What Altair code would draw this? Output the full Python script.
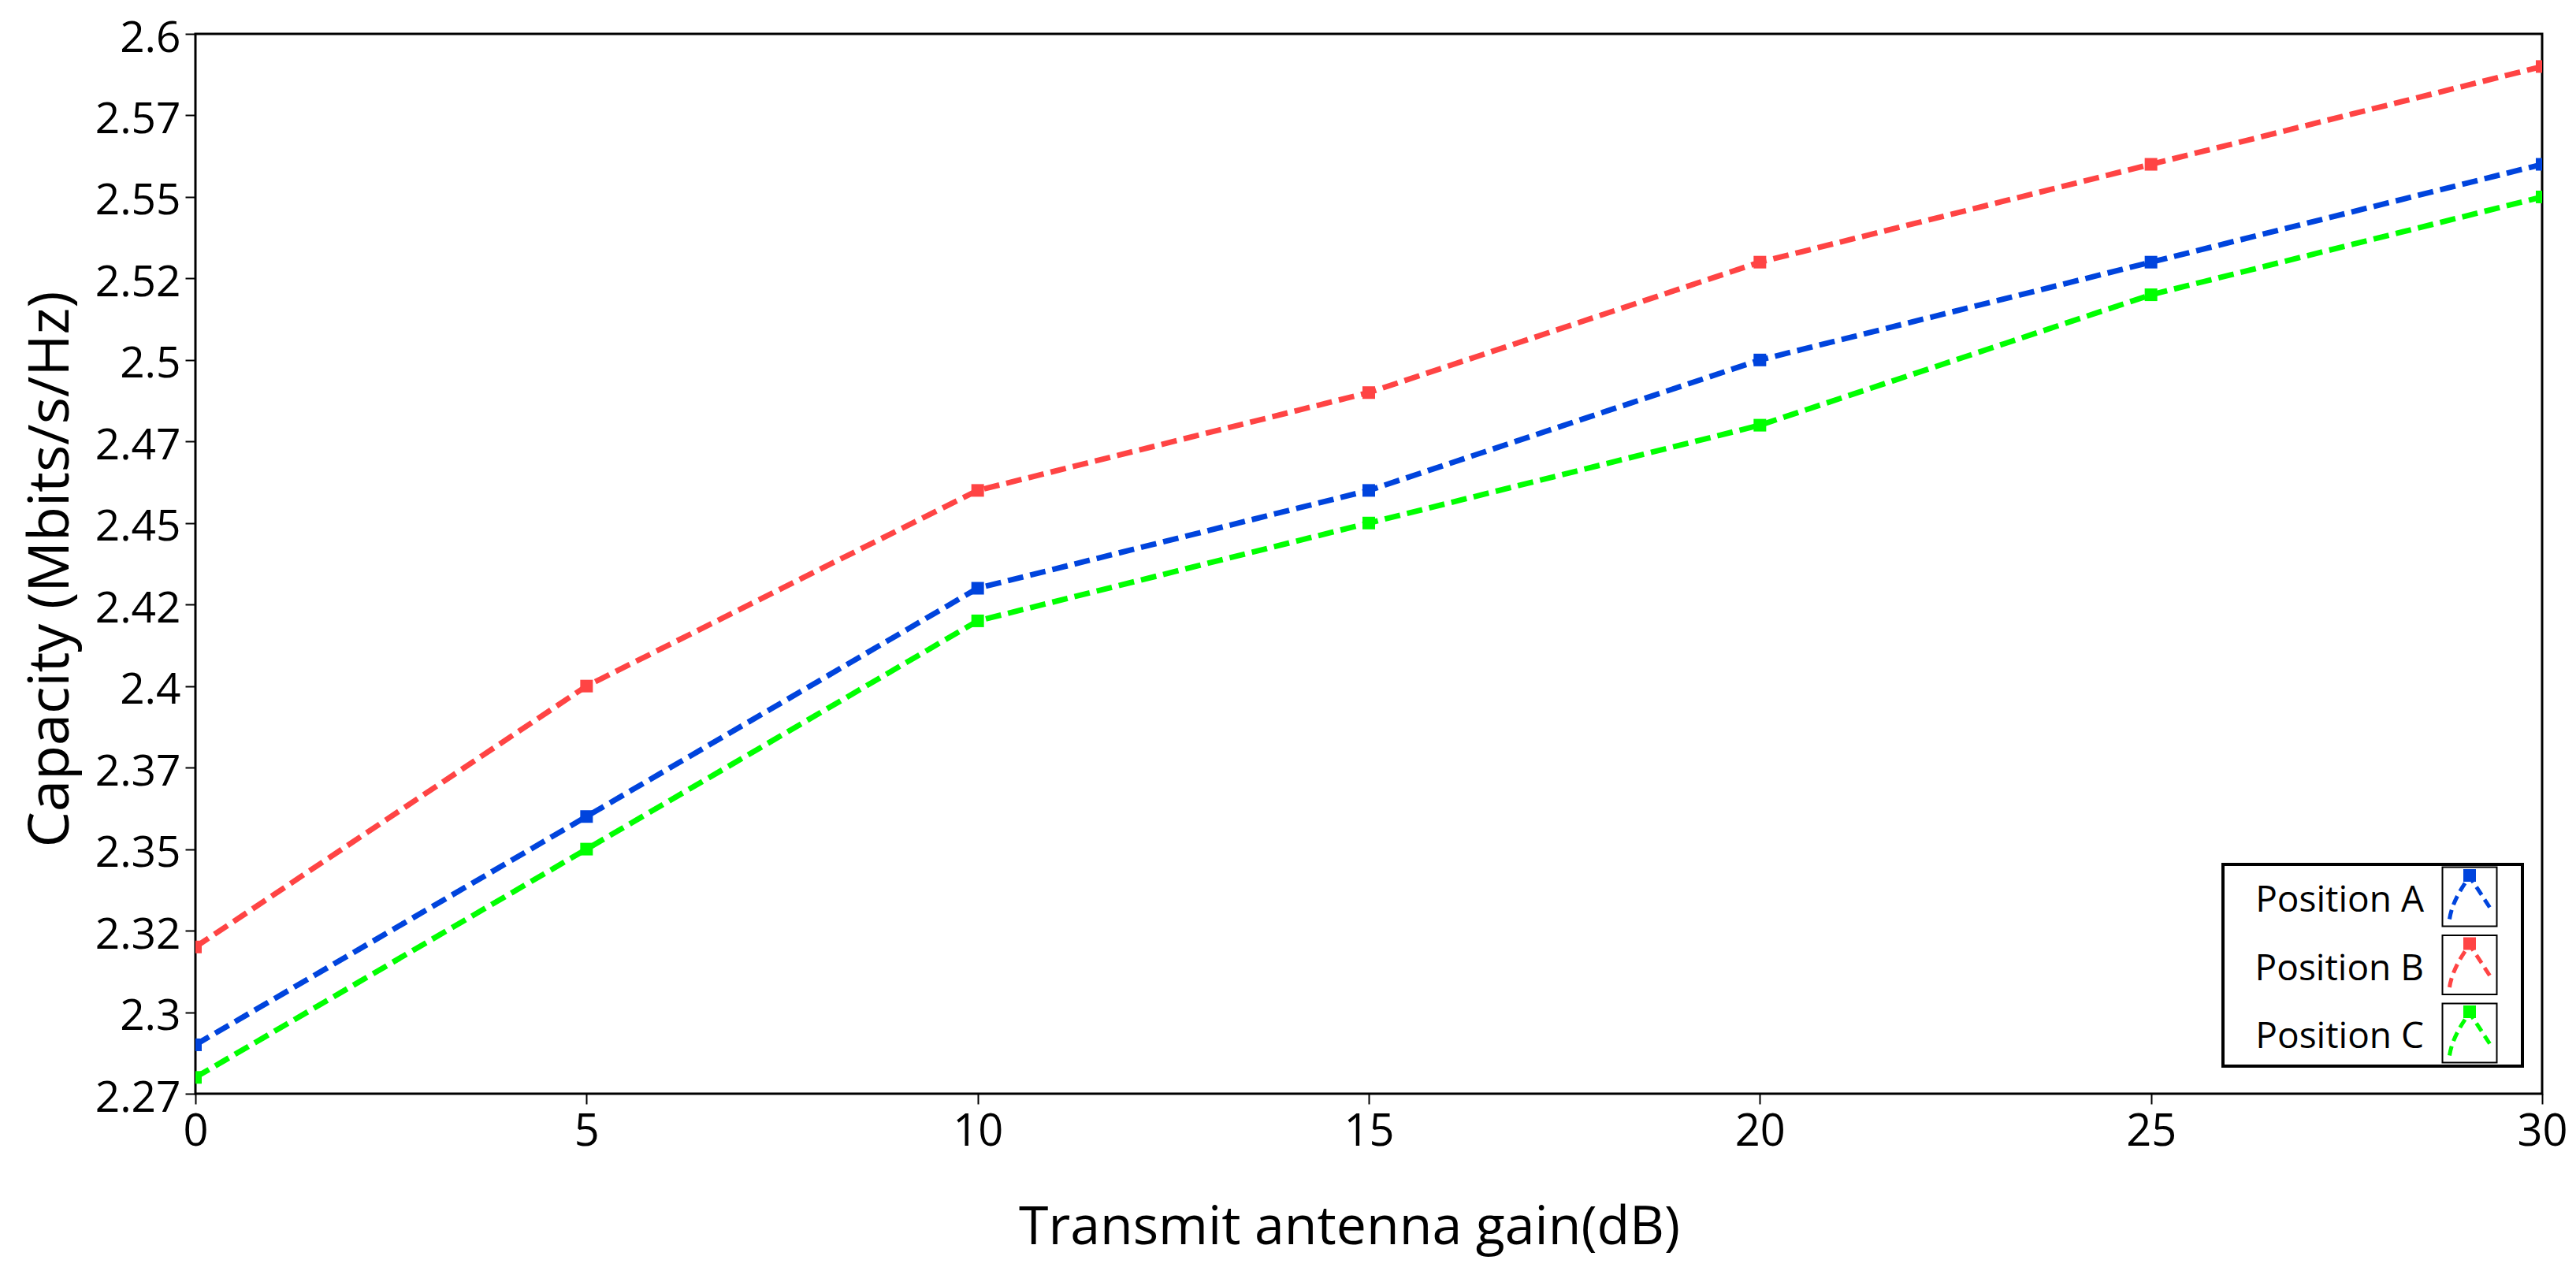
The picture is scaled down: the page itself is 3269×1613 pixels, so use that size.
import altair as alt
import pandas as pd

# ---- data ----
gain_db = [0, 5, 10, 15, 20, 25, 30]
series_names = ["Position A", "Position B", "Position C"]
position_a = [2.290, 2.360, 2.430, 2.460, 2.500, 2.530, 2.560]
position_b = [2.320, 2.400, 2.460, 2.490, 2.530, 2.560, 2.590]
position_c = [2.280, 2.350, 2.420, 2.450, 2.480, 2.520, 2.550]
series_colors = ["#0044dd", "#ff4444", "#00ff00"]
x_ticks = [0, 5, 10, 15, 20, 25, 30]
y_ticks = [2.275, 2.3, 2.325, 2.35, 2.375, 2.4, 2.425, 2.45, 2.475, 2.5,
           2.525, 2.55, 2.575, 2.6]

rows = []
for name, vals in zip(series_names, [position_a, position_b, position_c]):
    for g, v in zip(gain_db, vals):
        rows.append({"gain": g, "capacity": v, "series": name})
df = pd.DataFrame(rows)
legend_df = pd.DataFrame({"series": series_names})
box_df = pd.DataFrame({"k": [0]})

FONT = "Open Sans"
W, H = 2978, 1345

color = alt.Color("series:N", scale=alt.Scale(domain=series_names, range=series_colors), legend=None)

x_enc = alt.X(
    "gain:Q",
    scale=alt.Scale(domain=[0, 30], nice=False, zero=False),
    axis=alt.Axis(
        values=x_ticks, format="d", title="Transmit antenna gain(dB)", grid=False, domain=False,
        tickColor="black", tickWidth=2, tickSize=13,
        labelFont=FONT, labelFontSize=56, labelColor="black",
        labelBaseline="alphabetic", labelPadding=52, labelFlush=False,
        titleFont=FONT, titleFontSize=68, titleFontWeight="normal", titleColor="black",
        titleX=1464, titleY=190, titleBaseline="alphabetic", titleAlign="center",
    ),
)
y_enc = alt.Y(
    "capacity:Q",
    scale=alt.Scale(domain=[2.275, 2.6], nice=False, zero=False),
    axis=alt.Axis(
        values=y_ticks, title="Capacity (Mbits/s/Hz)", grid=False, domain=False,
        tickColor="black", tickWidth=2, tickSize=13,
        labelExpr="toString(floor(datum.value*100 + 0.001)/100)",
        labelFont=FONT, labelFontSize=55, labelColor="black",
        labelBaseline="alphabetic", labelOffset=22, labelPadding=6, labelFlush=False,
        titleFont=FONT, titleFontSize=72, titleFontWeight="normal", titleColor="black",
        titleX=-162, titleY=679, titleBaseline="alphabetic", titleAlign="center",
        titleAngle=270,
    ),
)

lines = alt.Chart(df).mark_line(strokeDash=[20, 9], strokeWidth=7, clip=True).encode(
    x=x_enc, y=y_enc, color=color, detail="series:N"
)
points = alt.Chart(df).mark_point(shape="square", filled=True, size=256, opacity=1, clip=True).encode(
    x="gain:Q", y="capacity:Q", color=color
)
data_layer = alt.layer(lines, points)

# ---- custom legend (labels left, symbols right, as in the reference) ----
leg_y = alt.Y("series:N", scale=alt.Scale(domain=series_names, range=[1095, 1268], padding=0), axis=None)

legend_box = alt.Chart(box_df).mark_rect(fill="white", stroke="black", strokeWidth=4).encode(
    x=alt.value(2573), x2=alt.value(2953), y=alt.value(1054), y2=alt.value(1310)
)
leg_text = alt.Chart(legend_df).mark_text(
    align="right", baseline="alphabetic", dy=19, font=FONT, fontSize=46, color="black"
).encode(x=alt.value(2828), y=leg_y, text="series:N")
leg_frame = alt.Chart(legend_df).mark_point(
    shape="M-0.92,-1 L0.92,-1 L0.92,1 L-0.92,1 Z", filled=False, size=5625,
    stroke="black", strokeWidth=2, fill="white", fillOpacity=1, opacity=1,
).encode(x=alt.value(2886), y=leg_y)
leg_caret = alt.Chart(legend_df).mark_point(
    shape="M-0.85,0.95 C-0.75,0.3 -0.4,-0.3 0,-0.85 L0.85,0.45",
    filled=False, size=3600, strokeWidth=5, strokeDash=[12, 7], opacity=1,
).encode(x=alt.value(2886), y=leg_y, color=color)
leg_sq = alt.Chart(legend_df).mark_point(shape="square", filled=True, size=256, opacity=1).encode(
    x=alt.value(2886), y=leg_y, yOffset=alt.value(-27), color=color
)
legend_layer = alt.layer(leg_text, leg_frame, leg_caret, leg_sq)

chart = (
    alt.layer(data_layer, legend_box, legend_layer)
    .resolve_scale(y="independent")
    .properties(
        width=W, height=H,
        autosize=alt.AutoSizeParams(type="none"),
        padding={"left": 240, "top": 35, "right": 35, "bottom": 213},
        background="white",
    )
    .configure_view(stroke="black", strokeWidth=3)
)

chart.save("out.html", embed_options={"renderer": "svg", "actions": False})
